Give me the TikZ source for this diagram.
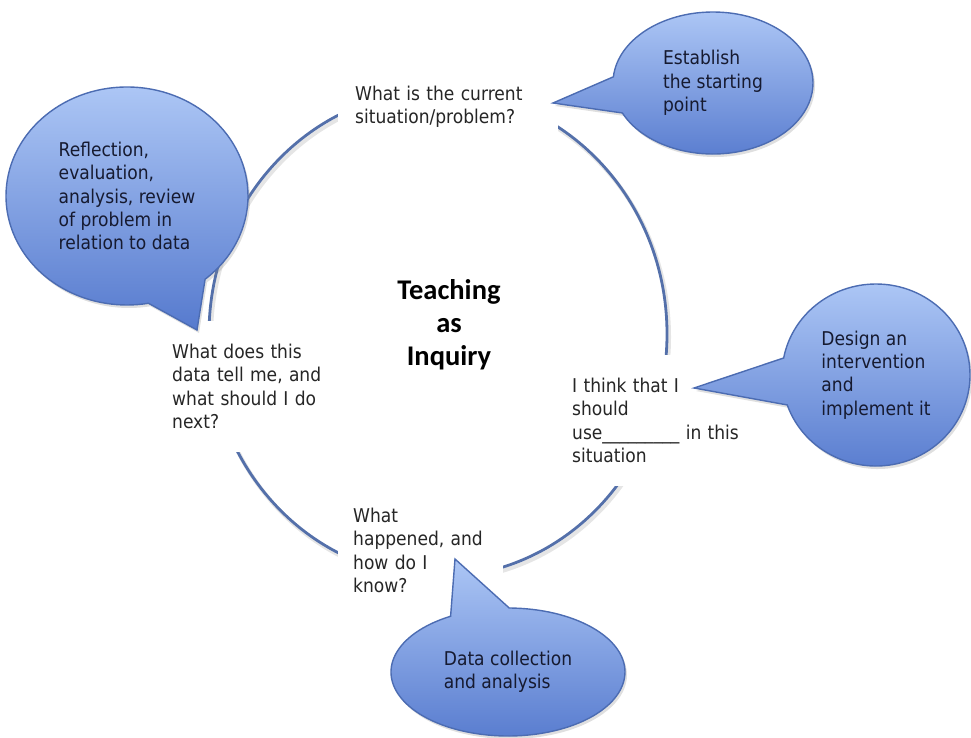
\documentclass[tikz,border=0pt]{standalone}
\usepackage{fontspec}
\setmainfont{DejaVu Sans Condensed}
\newfontfamily\titlefont{Carlito}
\usetikzlibrary{shapes.callouts,shadows}
\definecolor{ringblue}{RGB}{84,112,170}
\definecolor{bubbletop}{RGB}{172,198,245}
\definecolor{bubblebot}{RGB}{86,122,206}
\definecolor{bubbleedge}{RGB}{76,108,178}
\definecolor{bubbletext}{RGB}{22,26,48}
\tikzset{ring/.style={draw=ringblue, line width=2.8pt},
  ringshade/.style={draw=black, opacity=0.1, line width=4pt},
  question/.style={fill=white, anchor=north west, align=left,
    text=black!85, font=\fontsize{19}{23.3}\selectfont},
  bubble/.style={ellipse callout, draw=bubbleedge, line width=1.4pt,
    top color=bubbletop, bottom color=bubblebot, inner sep=0pt,
    callout pointer arc=30, align=left, text=bubbletext,
    font=\fontsize{19}{23.3}\selectfont,
    drop shadow={shadow xshift=2pt, shadow yshift=-3pt, opacity=0.25}}}

\begin{document}
\begin{tikzpicture}[x=1pt,y=-1pt]
  \useasboundingbox (0,0) rectangle (971,738);
  % the inquiry cycle
  \draw[ringshade] (440,337) ellipse [x radius=229, y radius=243];
  \draw[ring] (438,334) ellipse [x radius=229, y radius=243];

  % questions sit on the ring and hide it
  \node[question, inner xsep=17pt, inner ysep=8pt, text width=186pt] (qnow) at (338,78)
    {What is the current\\situation/problem?};
  \node[question, inner xsep=10pt, inner ysep=23pt, text width=160pt] (qnext) at (162,321)
    {What does this\\data tell me, and\\what should I do\\next?};
  \node[question, inner xsep=10pt, inner ysep=23pt, text width=175pt] (qplan) at (562,355)
    {I think that I\\should\\use\_\_\_\_\_\_\_\_\_ in this\\situation};
  \node[question, inner xsep=15pt, inner ysep=8pt, text width=135pt] (qknow) at (338,500)
    {What\\happened, and\\how do I\\know?};

  \node[font={\titlefont\bfseries\fontsize{28.5}{33}\selectfont}, align=center] (title) at (449,325)
    {Teaching\\as\\Inquiry};

  % where the bubbles point
  \coordinate (tipreflect) at (197,330);
  \coordinate (tipestablish) at (553,103);
  \coordinate (tipdesign) at (694,388);
  \coordinate (tipcollect) at (455,559);

  \node[bubble, minimum width=242pt, minimum height=218pt,
    callout absolute pointer={(tipreflect)}] (reflect) at (127,196)
    {Reflection,\\evaluation,\\analysis, review\\of problem in\\relation to data};
  \node[bubble, minimum width=200pt, minimum height=142pt,
    callout absolute pointer={(tipestablish)}] (establish) at (713,83)
    {Establish\\the starting\\point};
  \node[bubble, minimum width=188pt, minimum height=182pt,
    callout absolute pointer={(tipdesign)}] (design) at (876,375)
    {Design an\\intervention\\and\\implement it};
  \node[bubble, minimum width=234pt, minimum height=128pt,
    callout absolute pointer={(tipcollect)}] (collect) at (508,672)
    {Data collection\\and analysis};
\end{tikzpicture}
\end{document}
